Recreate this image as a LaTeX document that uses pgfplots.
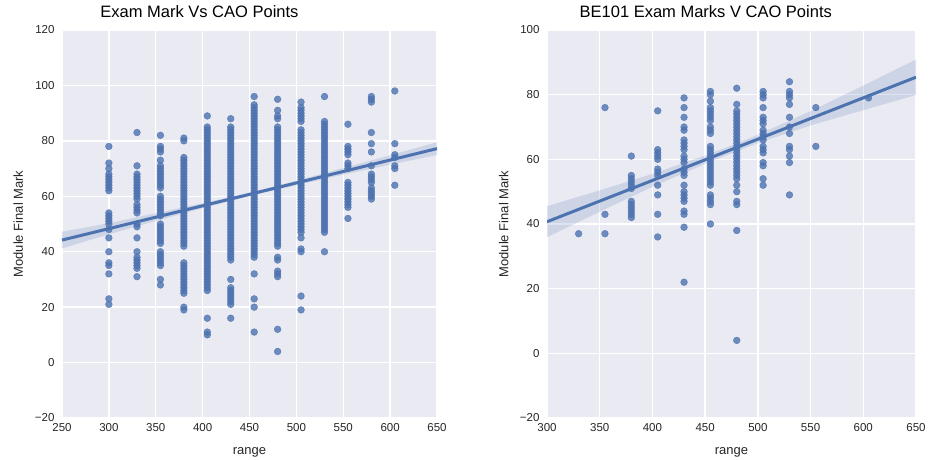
\documentclass[border=0pt]{standalone}
\usepackage{fontspec}
\setmainfont{Liberation Sans}
\usepackage{pgfplots}
\pgfplotsset{compat=1.18}
\definecolor{sbblue}{HTML}{4C72B0}
\definecolor{sbbg}{HTML}{EAEAF2}
\definecolor{sbtext}{HTML}{262626}
\pgfplotsset{
  sbaxis/.style={
    scale only axis, height=388pt,
    axis background/.style={fill=sbbg},
    grid=major, major grid style={white, line width=1.3pt},
    axis line style={draw=none}, major tick length=0pt,
    tick style={draw=none},
    /pgf/number format/assume math mode=true,
    ticklabel style={font=\fontsize{11.5}{13}\selectfont, text=sbtext},
    xticklabel style={yshift=-2pt},
    yticklabel style={xshift=-4pt},
    label style={font=\fontsize{13}{15}\selectfont, text=sbtext},
    xlabel=range, ylabel=Module Final Mark,
    xlabel style={at={(axis description cs:0.5,-0.088)}, anchor=center},
    ylabel style={at={(axis description cs:-0.117,0.5)}, anchor=center},
  },
  dots/.style={only marks, mark=*, mark size=3.4pt, color=sbblue,
    mark options={draw=sbblue, fill=sbblue, opacity=0.8}},
  fitline/.style={sbblue, line width=3pt, no marks},
  band/.style={draw=none, fill=sbblue, fill opacity=0.18, no marks},
}
\begin{document}
\begin{tikzpicture}
\path[use as bounding box] (-62pt,-41pt) rectangle (868pt,418pt);
% ---------------- all students ----------------
\begin{axis}[sbaxis, width=375pt,
  xmin=250, xmax=650, ymin=-20, ymax=120,
  xtick={250,300,350,400,450,500,550,600,650},
  ytick={-20,0,20,40,60,80,100,120},
  yticklabels={−20,0,20,40,60,80,100,120},
  title={Exam Mark Vs CAO Points},
  title style={font=\fontsize{16.5}{19}\selectfont, text=black, at={(0.093,1)}, anchor=base west, yshift=7pt},
]
\addplot[dots] coordinates {
(300,78)(300,72)(300,70)(300,68)(300,67)(300,66)(300,65)(300,64)(300,63)(300,62)(300,54)(300,53)(300,52)(300,51)(300,50)(300,48)(300,45)(300,40)(300,36)(300,35)(300,32)(300,23)(300,21)
(330,83)(330,71)(330,68)(330,67)(330,66)(330,65)(330,64)(330,63)(330,62)(330,61)(330,60)(330,59)(330,57)(330,56)(330,55)(330,54)(330,50)(330,49)(330,45)(330,40)(330,38)(330,37)(330,36)(330,35)(330,34)(330,31)
(355,82)(355,78)(355,77)(355,76)(355,73)(355,71)(355,70)(355,69)(355,68)(355,67)(355,66)(355,65)(355,64)(355,63)(355,60)(355,59)(355,58)(355,57)(355,56)(355,55)(355,54)(355,53)(355,50)(355,49)(355,48)(355,47)(355,46)(355,45)(355,44)(355,43)(355,40)(355,39)(355,38)(355,37)(355,36)(355,35)(355,30)(355,28)
(380,81)(380,80)(380,74)(380,73)(380,72)(380,71)(380,70)(380,69)(380,68)(380,67)(380,66)(380,65)(380,64)(380,63)(380,62)(380,61)(380,60)(380,59)(380,58)(380,57)(380,56)(380,55)(380,54)(380,53)(380,52)(380,51)(380,50)(380,49)(380,48)(380,47)(380,46)(380,45)(380,44)(380,43)(380,42)(380,36)(380,35)(380,34)(380,33)(380,32)(380,31)(380,30)(380,29)(380,28)(380,27)(380,26)(380,25)(380,20)(380,19)
(405,89)(405,85)(405,84)(405,83)(405,82)(405,81)(405,80)(405,79)(405,78)(405,77)(405,76)(405,75)(405,74)(405,73)(405,72)(405,71)(405,70)(405,69)(405,68)(405,67)(405,66)(405,65)(405,64)(405,63)(405,62)(405,61)(405,60)(405,59)(405,58)(405,57)(405,56)(405,55)(405,54)(405,53)(405,52)(405,51)(405,50)(405,49)(405,48)(405,47)(405,46)(405,45)(405,44)(405,43)(405,42)(405,41)(405,40)(405,39)(405,38)(405,37)(405,36)(405,35)(405,34)(405,33)(405,32)(405,31)(405,30)(405,29)(405,28)(405,27)(405,26)(405,16)(405,11)(405,10)
(430,88)(430,85)(430,84)(430,83)(430,82)(430,81)(430,80)(430,79)(430,78)(430,77)(430,76)(430,75)(430,74)(430,73)(430,72)(430,71)(430,70)(430,69)(430,68)(430,67)(430,66)(430,65)(430,64)(430,63)(430,62)(430,61)(430,60)(430,59)(430,58)(430,57)(430,56)(430,55)(430,54)(430,53)(430,52)(430,51)(430,50)(430,49)(430,48)(430,47)(430,46)(430,45)(430,44)(430,43)(430,42)(430,41)(430,40)(430,39)(430,38)(430,37)(430,30)(430,27)(430,26)(430,25)(430,24)(430,23)(430,22)(430,21)(430,16)
(455,96)(455,93)(455,92)(455,91)(455,90)(455,89)(455,88)(455,87)(455,86)(455,85)(455,84)(455,83)(455,82)(455,81)(455,80)(455,79)(455,78)(455,77)(455,76)(455,75)(455,74)(455,73)(455,72)(455,71)(455,70)(455,69)(455,68)(455,67)(455,66)(455,65)(455,64)(455,63)(455,62)(455,61)(455,60)(455,59)(455,58)(455,57)(455,56)(455,55)(455,54)(455,53)(455,52)(455,51)(455,50)(455,49)(455,48)(455,47)(455,46)(455,45)(455,44)(455,43)(455,42)(455,41)(455,40)(455,39)(455,38)(455,32)(455,23)(455,20)(455,11)
(480,95)(480,91)(480,89)(480,88)(480,85)(480,84)(480,83)(480,82)(480,81)(480,80)(480,79)(480,78)(480,77)(480,76)(480,75)(480,74)(480,73)(480,72)(480,71)(480,70)(480,69)(480,68)(480,67)(480,66)(480,65)(480,64)(480,63)(480,62)(480,61)(480,60)(480,59)(480,58)(480,57)(480,56)(480,55)(480,54)(480,53)(480,52)(480,51)(480,50)(480,49)(480,48)(480,47)(480,46)(480,45)(480,44)(480,43)(480,42)(480,38)(480,37)(480,33)(480,32)(480,31)(480,12)(480,4)
(505,94)(505,92)(505,91)(505,90)(505,89)(505,88)(505,87)(505,84)(505,83)(505,82)(505,81)(505,80)(505,79)(505,78)(505,77)(505,76)(505,75)(505,74)(505,73)(505,72)(505,71)(505,70)(505,69)(505,68)(505,67)(505,66)(505,65)(505,64)(505,63)(505,62)(505,61)(505,60)(505,59)(505,58)(505,57)(505,56)(505,55)(505,54)(505,53)(505,52)(505,51)(505,50)(505,49)(505,48)(505,47)(505,45)(505,41)(505,40)(505,24)(505,19)
(530,96)(530,87)(530,86)(530,85)(530,84)(530,83)(530,82)(530,81)(530,80)(530,79)(530,78)(530,77)(530,76)(530,75)(530,74)(530,73)(530,72)(530,71)(530,70)(530,69)(530,68)(530,67)(530,66)(530,65)(530,64)(530,63)(530,62)(530,61)(530,60)(530,59)(530,58)(530,57)(530,56)(530,55)(530,54)(530,53)(530,52)(530,51)(530,50)(530,49)(530,48)(530,47)(530,40)
(555,86)(555,78)(555,77)(555,76)(555,75)(555,72)(555,71)(555,70)(555,65)(555,64)(555,63)(555,62)(555,61)(555,60)(555,59)(555,58)(555,57)(555,56)(555,52)
(580,96)(580,95)(580,94)(580,83)(580,79)(580,76)(580,71)(580,68)(580,67)(580,66)(580,65)(580,63)(580,62)(580,61)(580,60)(580,59)
(605,98)(605,79)(605,75)(605,74)(605,71)(605,70)(605,64)
};
% confidence band of the fit
\addplot[band] coordinates {
(250,47.2)(300,50.3)(350,53.9)(400,57.5)(450,61.3)(500,65.6)(550,70.2)(600,74.8)(650,79.5)
(650,74.9)(600,71.4)(550,67.8)(500,64.0)(450,60.1)(400,55.7)(350,51.1)(300,46.3)(250,41.2)
} --cycle;
\addplot[fitline] coordinates {(250,44.2)(650,77.2)};
\end{axis}
% ---------------- BE101 ----------------
\begin{axis}[sbaxis, width=369pt, xshift=485pt,
  xmin=300, xmax=650, ymin=-20, ymax=100,
  xtick={300,350,400,450,500,550,600,650},
  ytick={-20,0,20,40,60,80,100},
  yticklabels={−20,0,20,40,60,80,100},
  title={BE101 Exam Marks V CAO Points},
  title style={font=\fontsize{16.5}{19}\selectfont, text=black, at={(0.079,1)}, anchor=base west, yshift=7pt},
]
\addplot[dots] coordinates {
(330,37)
(355,76)(355,43)(355,37)
(380,61)(380,55)(380,54)(380,53)(380,52)(380,51)(380,47)(380,46)(380,45)(380,44)(380,43)(380,42)
(405,75)(405,63)(405,62)(405,61)(405,60)(405,57)(405,56)(405,55)(405,52)(405,49)(405,43)(405,36)
(430,79)(430,76)(430,73)(430,70)(430,69)(430,66)(430,65)(430,64)(430,63)(430,61)(430,60)(430,59)(430,57)(430,56)(430,55)(430,52)(430,50)(430,49)(430,48)(430,47)(430,44)(430,43)(430,39)(430,22)
(455,81)(455,80)(455,78)(455,76)(455,75)(455,74)(455,73)(455,72)(455,70)(455,69)(455,68)(455,64)(455,63)(455,62)(455,61)(455,60)(455,59)(455,58)(455,57)(455,56)(455,55)(455,54)(455,53)(455,52)(455,49)(455,48)(455,47)(455,46)(455,40)
(480,82)(480,77)(480,75)(480,74)(480,73)(480,72)(480,71)(480,70)(480,69)(480,68)(480,67)(480,66)(480,65)(480,64)(480,63)(480,62)(480,61)(480,60)(480,59)(480,58)(480,57)(480,56)(480,55)(480,54)(480,52)(480,50)(480,47)(480,46)(480,38)(480,4)
(505,81)(505,80)(505,79)(505,76)(505,73)(505,72)(505,71)(505,69)(505,68)(505,67)(505,66)(505,64)(505,63)(505,62)(505,59)(505,58)(505,54)(505,52)
(530,84)(530,81)(530,80)(530,79)(530,77)(530,73)(530,70)(530,68)(530,64)(530,63)(530,61)(530,59)(530,49)
(555,76)(555,64)
(605,79)
};
\addplot[band] coordinates {
(300,45.5)(350,50.4)(400,55.5)(450,61.2)(480,64.9)(500,67.6)(550,74.9)(600,82.8)(650,90.9)
(650,79.9)(600,75.2)(550,70.5)(500,65.0)(480,62.5)(450,58.6)(400,51.5)(350,43.8)(300,35.9)
} --cycle;
\addplot[fitline] coordinates {(300,40.7)(650,85.4)};
\end{axis}
\end{tikzpicture}
\end{document}
